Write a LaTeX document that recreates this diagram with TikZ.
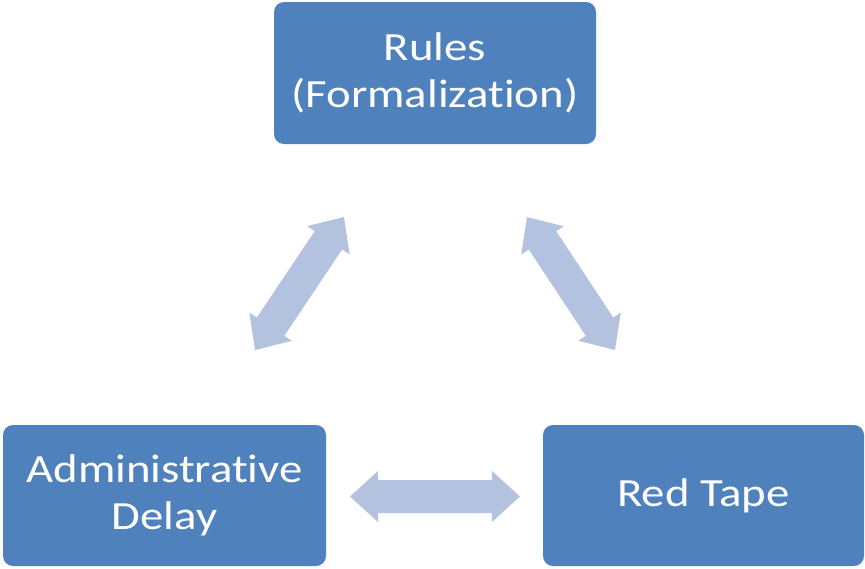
\documentclass[tikz,border=0pt]{standalone}
\usepackage{fontspec}
\usetikzlibrary{calc}
\newfontfamily\boxfont[FakeStretch=1.17,RawFeature={-liga}]{Carlito}
\definecolor{boxblue}{HTML}{4F81BD}
\definecolor{arrowblue}{HTML}{B3C2DF}
\newcommand\dblarrow[2]{%
  \fill[arrowfill] (#1) -- ($(#1)!37.9pt!42.3:(#2)$) -- ($(#1)!32.5pt!30.5:(#2)$)
    -- ($(#2)!32.5pt!-30.5:(#1)$) -- ($(#2)!37.9pt!-42.3:(#1)$) -- (#2)
    -- ($(#2)!37.9pt!42.3:(#1)$) -- ($(#2)!32.5pt!30.5:(#1)$)
    -- ($(#1)!32.5pt!-30.5:(#2)$) -- ($(#1)!37.9pt!-42.3:(#2)$) -- cycle;}
\begin{document}
\begin{tikzpicture}[x=1pt,y=-1pt,
  box/.style={fill=boxblue, rounded corners=10pt, inner sep=0pt, text=white,
    font=\boxfont\fontsize{40}{47}\selectfont, align=center},
  arrowfill/.style={fill=arrowblue}]
\useasboundingbox (0,0) rectangle (865,568);
\node[box, minimum width=322pt, minimum height=142pt, text height=78pt, text depth=10pt] (rules) at (435,73) {Rules\\(Formalization)};
\node[box, minimum width=323pt, minimum height=141pt, text height=78pt, text depth=10pt] (delay) at (164.5,495.5) {Administrative\\Delay};
\node[box, minimum width=321pt, minimum height=141pt, text height=31pt, text depth=10pt] (tape) at (703.5,495.5) {Red Tape};
\coordinate (a1) at (255,350);
\coordinate (a2) at (344,217);
\coordinate (b1) at (527,217);
\coordinate (b2) at (615,350);
\coordinate (c1) at (350,496.5);
\coordinate (c2) at (520,496.5);
\dblarrow{a1}{a2}
\dblarrow{b1}{b2}
\dblarrow{c1}{c2}
\end{tikzpicture}
\end{document}
